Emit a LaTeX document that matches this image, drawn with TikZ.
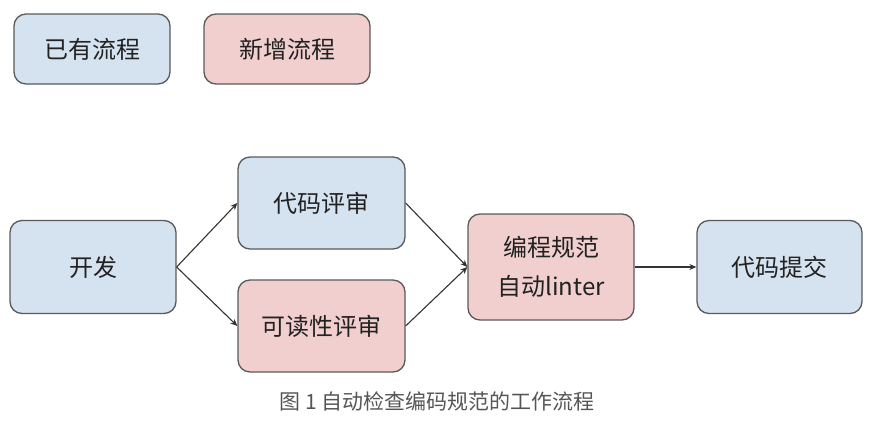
\documentclass[tikz,border=0pt]{standalone}
\usepackage{fontspec}
\setmainfont{Noto Sans CJK SC}
\usetikzlibrary{arrows.meta}
\definecolor{oldfill}{HTML}{D5E2F0}
\definecolor{newfill}{HTML}{F1CFCE}
\definecolor{boxline}{HTML}{5A5A5A}
\definecolor{captext}{HTML}{555555}
\definecolor{boxtext}{HTML}{222222}
\tikzset{
  procbox/.style={draw=boxline, line width=1.3pt, rounded corners=12pt, inner sep=0pt, text=boxtext, font=\fontsize{24}{39}\selectfont, align=center},
  oldbox/.style={procbox, fill=oldfill},
  newbox/.style={procbox, fill=newfill},
  conn/.style={draw=black!80, line width=1.1pt, -{Stealth[length=7pt,width=6pt]}}
}
\begin{document}
\begin{tikzpicture}[x=1pt,y=-1pt]
\useasboundingbox (0,0) rectangle (878,421);
\node[oldbox, minimum width=156pt, minimum height=70pt] (lg1) at (92,49) {已有流程};
\node[newbox, minimum width=166pt, minimum height=70pt] (lg2) at (287,49) {新增流程};
\node[oldbox, minimum width=166pt, minimum height=93pt] (dev) at (93,267) {开发};
\node[oldbox, minimum width=167pt, minimum height=92pt] (cr) at (321.5,203) {代码评审};
\node[newbox, minimum width=167pt, minimum height=92pt] (rr) at (321.5,326) {可读性评审};
\node[newbox, minimum width=166pt, minimum height=106pt] (lint) at (551,267) {编程规范\\自动linter};
\node[oldbox, minimum width=165pt, minimum height=93pt] (sub) at (779.5,267) {代码提交};
\node[text=captext, font=\fontsize{21}{25}\selectfont] (cap) at (437,401) {图 1 自动检查编码规范的工作流程};
\draw[conn] (dev.east) -- (cr.west);
\draw[conn] (dev.east) -- (rr.west);
\draw[conn] (cr.east) -- (lint.west);
\draw[conn] (rr.east) -- (lint.west);
\draw[conn] (lint.east) -- (sub.west);
\end{tikzpicture}
\end{document}
